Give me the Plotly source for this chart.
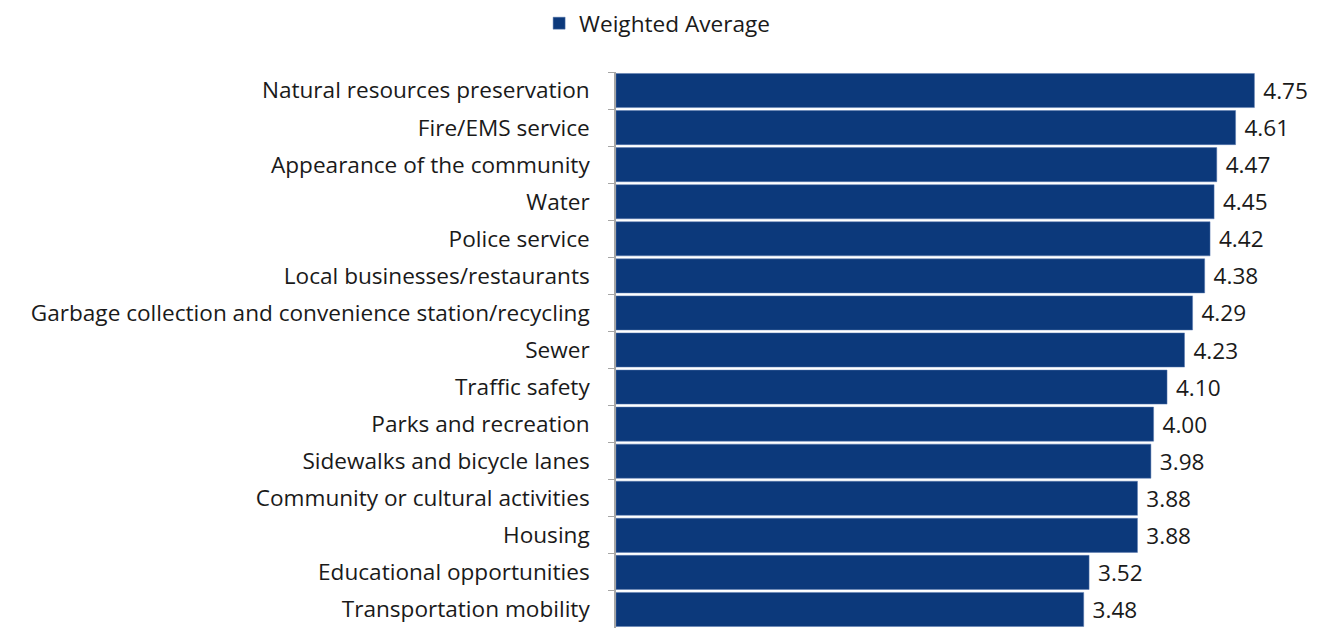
import plotly.graph_objects as go

categories = [
    "Natural resources preservation",
    "Fire/EMS service",
    "Appearance of the community",
    "Water",
    "Police service",
    "Local businesses/restaurants",
    "Garbage collection and convenience station/recycling",
    "Sewer",
    "Traffic safety",
    "Parks and recreation",
    "Sidewalks and bicycle lanes",
    "Community or cultural activities",
    "Housing",
    "Educational opportunities",
    "Transportation mobility",
]
values = [4.75, 4.61, 4.47, 4.45, 4.42, 4.38, 4.29, 4.23, 4.10, 4.00, 3.98, 3.88, 3.88, 3.52, 3.48]
series_name = "Weighted Average"

FONT = "Open Sans"
FS = 22.6
TXT = "#1a1a1a"

fig = go.Figure(
    go.Bar(
        y=categories,
        x=values,
        orientation="h",
        name=series_name,
        marker=dict(color="#0c397b", line=dict(color="#5a7bb0", width=0.5)),
        texttemplate="\u00a0%{x:.2f}",
        textposition="outside",
        cliponaxis=False,
        textfont=dict(family=FONT, size=FS, color=TXT),
        showlegend=True,
    )
)

# page body has an 8px offset, so figure is sized/margined to compensate
fig.update_layout(
    width=1314,
    height=620,
    margin=dict(l=608, r=34, t=64, b=0, autoexpand=False),
    paper_bgcolor="white",
    plot_bgcolor="white",
    bargap=0.08,
    font=dict(family=FONT, size=FS, color=TXT),
    legend=dict(
        orientation="h",
        x=0.494,
        xanchor="center",
        xref="container",
        y=0.975,
        yref="container",
        yanchor="middle",
        font=dict(family=FONT, size=FS, color=TXT),
        itemwidth=30,
    ),
    xaxis=dict(
        range=[0, 5],
        showgrid=False,
        zeroline=False,
        showticklabels=False,
        showline=False,
        ticks="",
    ),
    yaxis=dict(
        autorange="reversed",
        showline=True,
        linecolor="#a6a6a6",
        linewidth=1.5,
        ticks="outside",
        tickson="boundaries",
        ticklen=6,
        tickcolor="#a6a6a6",
        tickfont=dict(family=FONT, size=FS, color=TXT),
        ticklabelstandoff=20,
        showgrid=False,
    ),
)

fig.write_html("out.html")
